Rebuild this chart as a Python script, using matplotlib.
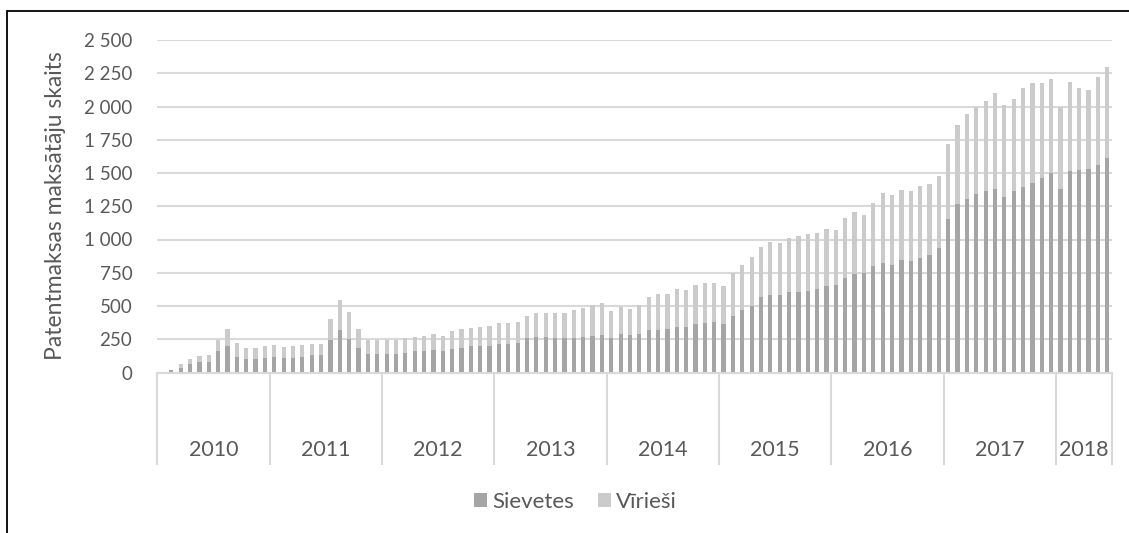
import matplotlib
matplotlib.use("Agg")
import matplotlib.pyplot as plt
from matplotlib.ticker import FuncFormatter, MultipleLocator
from matplotlib.patches import Rectangle
import numpy as np

years = ["2010", "2011", "2012", "2013", "2014", "2015", "2016", "2017", "2018"]
months_per_year = [12, 12, 12, 12, 12, 12, 12, 12, 6]

sievietes = [
    0, 20, 32, 62, 77, 80, 160, 197, 120, 100, 100, 112,
    120, 112, 112, 120, 135, 130, 247, 317, 250, 185, 142, 142,
    142, 142, 150, 165, 165, 172, 165, 180, 187, 200, 202, 202,
    217, 217, 225, 260, 270, 265, 260, 257, 260, 270, 275, 285,
    262, 287, 280, 287, 317, 317, 325, 340, 340, 362, 370, 377,
    367, 427, 467, 497, 565, 580, 580, 607, 602, 610, 627, 647,
    660, 712, 742, 745, 802, 825, 810, 847, 837, 862, 887, 937,
    1155, 1267, 1307, 1345, 1365, 1380, 1320, 1365, 1395, 1425, 1462, 1500,
    1382, 1517, 1522, 1530, 1560, 1612,
]
virieshi = [
    0, 2, 35, 40, 50, 55, 85, 128, 105, 87, 87, 85,
    87, 80, 85, 90, 82, 85, 158, 230, 207, 142, 105, 105,
    105, 105, 110, 105, 110, 120, 110, 132, 138, 137, 140, 145,
    155, 155, 157, 162, 175, 185, 187, 190, 210, 217, 230, 235,
    198, 203, 197, 223, 248, 275, 262, 290, 282, 293, 302, 298,
    283, 318, 340, 373, 377, 402, 397, 403, 425, 432, 423, 435,
    412, 448, 463, 440, 470, 527, 525, 523, 525, 538, 528, 543,
    560, 593, 635, 650, 677, 725, 690, 695, 747, 750, 718, 710,
    613, 668, 615, 597, 660, 683,
]

W, H = 1129, 533
fig = plt.figure(figsize=(W / 100, H / 100), dpi=100)
plt.rcParams["font.family"] = ["Lato", "DejaVu Sans"]
text_col = "#595959"
grid_col = "#D9D9D9"
dark_col = "#A5A5A5"
light_col = "#CBCBCB"

left, right = 157.3 / W, 1112 / W
bottom, top = 1 - 372.5 / H, 1 - 40 / H
ax = fig.add_axes([left, bottom, right - left, top - bottom])

x = np.arange(len(sievietes))
bw = 0.45
ax.bar(x, sievietes, width=bw, color=dark_col, label="Sievetes", zorder=3)
ax.bar(x, virieshi, width=bw, bottom=sievietes, color=light_col, label="Vīrieši", zorder=3)

ax.set_xlim(-0.5, len(sievietes) - 0.5)
ax.set_ylim(0, 2500)
ax.yaxis.set_major_locator(MultipleLocator(250))
ax.yaxis.set_major_formatter(FuncFormatter(lambda v, p: f"{int(v):,}".replace(",", " ")))
ax.grid(axis="y", color=grid_col, linewidth=1.5, zorder=0)
for s in ["top", "right", "left"]:
    ax.spines[s].set_visible(False)
ax.spines["bottom"].set_color(grid_col)
ax.spines["bottom"].set_linewidth(1.5)
ax.spines["bottom"].set_zorder(4)
ax.tick_params(axis="y", length=0, pad=18, labelsize=13.5, labelcolor=text_col)
ax.set_xticks([])

# multi-level category axis: year dividers and labels
bounds = np.concatenate([[0], np.cumsum(months_per_year)]) - 0.5
trans = ax.get_xaxis_transform()
for b in bounds:
    ax.plot([b, b], [0, -0.275], transform=trans, color=grid_col, linewidth=1.5, clip_on=False)
for i, yr in enumerate(years):
    ax.text((bounds[i] + bounds[i + 1]) / 2, -0.232, yr, transform=trans,
            ha="center", va="center", fontsize=15.5, color=text_col)

fig.text(56 / W, 1 - 206 / H, "Patentmaksas maksātāju skaits", rotation=90,
         ha="center", va="center", fontsize=16.5, color=text_col)

leg = fig.legend(loc="center", bbox_to_anchor=(0.51, 1 - 502 / H), ncol=2, frameon=False,
                 fontsize=16, handlelength=0.55, handleheight=0.55, handletextpad=0.25,
                 columnspacing=1.1, labelcolor=text_col)

fig.patches.append(Rectangle((7 / W, -0.2), 1.2, 1.2 - 11 / H, transform=fig.transFigure,
                             fill=False, edgecolor="black", linewidth=1.3))

fig.savefig("out.png", dpi=100)
